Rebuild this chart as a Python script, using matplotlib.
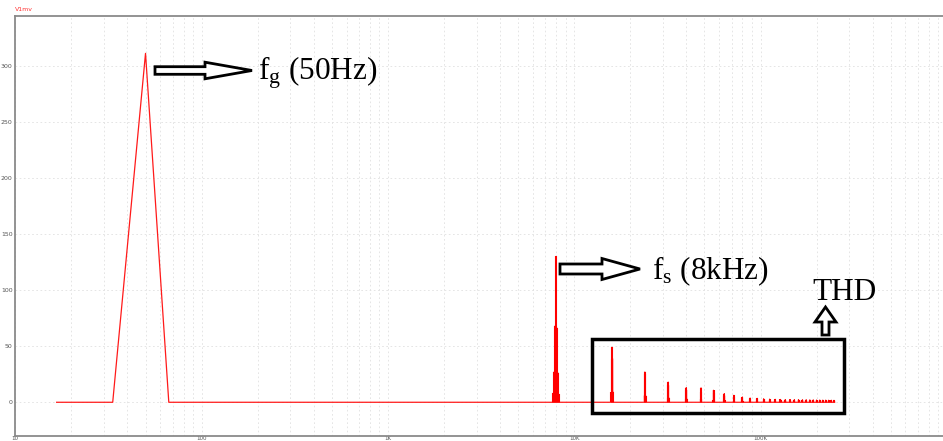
import numpy as np
import matplotlib
matplotlib.use("Agg")
import matplotlib.pyplot as plt
from matplotlib.patches import Polygon, Rectangle
from matplotlib.ticker import FixedLocator, NullFormatter

plt.rcParams["mathtext.fontset"] = "custom"
plt.rcParams["mathtext.rm"] = "Liberation Serif"
plt.rcParams["mathtext.it"] = "Liberation Serif:italic"

# spectrum values (V) read per line
fg = 50.0          # grid frequency, Hz
fs = 8000.0        # switching frequency, Hz
f_max = 250000.0   # last FFT bin shown
fund_peak = 311.0

fs_offsets = [-300, -200, -100, 0, 100, 200, 300]
fs_amps = [8, 27, 68, 130, 66, 26, 7]

harm_orders = list(range(2, 32))
harm_lo = [49, 27, 18, 13, 12.8, 10.7, 7.7, 6.2, 4.7, 3.8, 3.5, 3.0, 2.8, 2.6, 2.5,
           2.4, 2.4, 2.3, 2.3, 2.2, 2.2, 2.1, 2.1, 2.0, 2.0, 1.9, 1.9, 1.8, 1.8, 1.7]
harm_hi = [39, 25, 15, 11, 9.0, 8.0, 6.0, 5.0, 4.0, 3.2, 3.0, 2.6, 2.4, 2.2, 2.1,
           2.0, 2.0, 1.9, 1.9, 1.8, 1.8, 1.7, 1.7, 1.6, 1.6, 1.5, 1.5, 1.5, 1.4, 1.4]
# outer sidebands (k*fs -/+ 3fg)
harm_side = [9, 6, 4, 3, 2.5, 2, 1.6, 1.3, 1.1, 1.0, 0.9, 0.8, 0.8, 0.7, 0.7,
             0.7, 0.6, 0.6, 0.6, 0.6, 0.5, 0.5, 0.5, 0.5, 0.5, 0.5, 0.5, 0.5, 0.5, 0.5]

y_ticks = [0, 50, 100, 150, 200, 250, 300]
x_ticks = [10, 100, 1e3, 1e4, 1e5, 1e6]
x_labels = ["10", "100", "1K", "10K", "100K", "1M"]

# FFT bins: 60 ms window -> 16.67 Hz resolution
df = fg / 3
n_bins = int(round(f_max / df))
freq = df * np.arange(1, n_bins + 1)
amp = np.zeros(n_bins)


def put(f, a):
    amp[int(round(f / df)) - 1] = a


put(fg, fund_peak)
for off, a in zip(fs_offsets, fs_amps):
    put(fs + off, a)
for k, lo, hi, sd in zip(harm_orders, harm_lo, harm_hi, harm_side):
    put(k * fs - fg, lo)
    put(k * fs + fg, hi)
    put(k * fs - 3 * fg, sd)
    put(k * fs + 3 * fg, sd)

W, H = 943, 441
fig = plt.figure(figsize=(W / 100, H / 100), dpi=100)
fig.patch.set_facecolor("white")

ax = fig.add_axes([15.3 / W, (H - 435.7) / H, (W - 15.3) / W, (435.7 - 16) / H])
ax.plot(freq, amp, color="#ff1a1a", lw=0.9)
# switching lines are packed tightly on a log axis, stroke them a bit heavier
hf = (freq > 1000) & (amp > 0)
ax.vlines(freq[hf], 0, amp[hf], color="#ff0000", lw=1.5)
ax.set_xscale("log")
ax.set_xlim(10, 10 ** (1 + (W - 15.3) / 186.3))
ax.set_ylim(-29.8, 344.3)

minor = [m * 10.0 ** e for e in range(1, 6) for m in range(2, 10)]
ax.xaxis.set_major_locator(FixedLocator(x_ticks))
ax.xaxis.set_minor_locator(FixedLocator(minor))
ax.xaxis.set_minor_formatter(NullFormatter())
ax.set_xticklabels(x_labels)
ax.set_yticks(y_ticks)
ax.tick_params(which="both", length=0, labelsize=4.5, labelcolor="#555555", pad=2)
ax.tick_params(axis="x", labelsize=4, pad=0.3)
ax.grid(which="both", color="#e0e0e0", lw=0.6, ls=(0, (2, 3)))
ax.set_axisbelow(True)
for s in ax.spines.values():
    s.set_color("#8a8a8a")
    s.set_linewidth(1.3)
ax.spines["right"].set_visible(False)

# pixel-space overlay for the call-outs
ov = fig.add_axes([0, 0, 1, 1], facecolor="none")
ov.set_xlim(0, W)
ov.set_ylim(H, 0)
ov.axis("off")


def block_arrow(x0, xh, xt, yc, hb, hh):
    pts = [(x0, yc - hb), (xh, yc - hb), (xh, yc - hh), (xt, yc),
           (xh, yc + hh), (xh, yc + hb), (x0, yc + hb)]
    ov.add_patch(Polygon(pts, closed=True, fc="white", ec="black", lw=2))


block_arrow(155, 205, 252, 70.5, 3.8, 8.3)
block_arrow(560, 602, 640, 269, 5, 10.5)

# up arrow under THD
ov.add_patch(Polygon([(822, 335), (822, 322), (815, 322), (825.5, 307),
                      (836, 322), (829, 322), (829, 335)],
                     closed=True, fc="white", ec="black", lw=2))
ov.add_patch(Rectangle((592, 339), 252, 74, fill=False, ec="black", lw=2.5))

serif = dict(family="Liberation Serif", fontsize=22.5, color="black", va="baseline")
ov.text(258, 79.3, r"f$_\mathrm{g}$ (50Hz)", **serif)
ov.text(652, 279.3, r"f$_\mathrm{s}$ (8kHz)", **serif)
ov.text(812, 300, "THD", **serif)
ov.text(15, 11, "V1mv", fontsize=4.5, color="#ff3333", va="baseline")

fig.savefig("out.png", dpi=100)
